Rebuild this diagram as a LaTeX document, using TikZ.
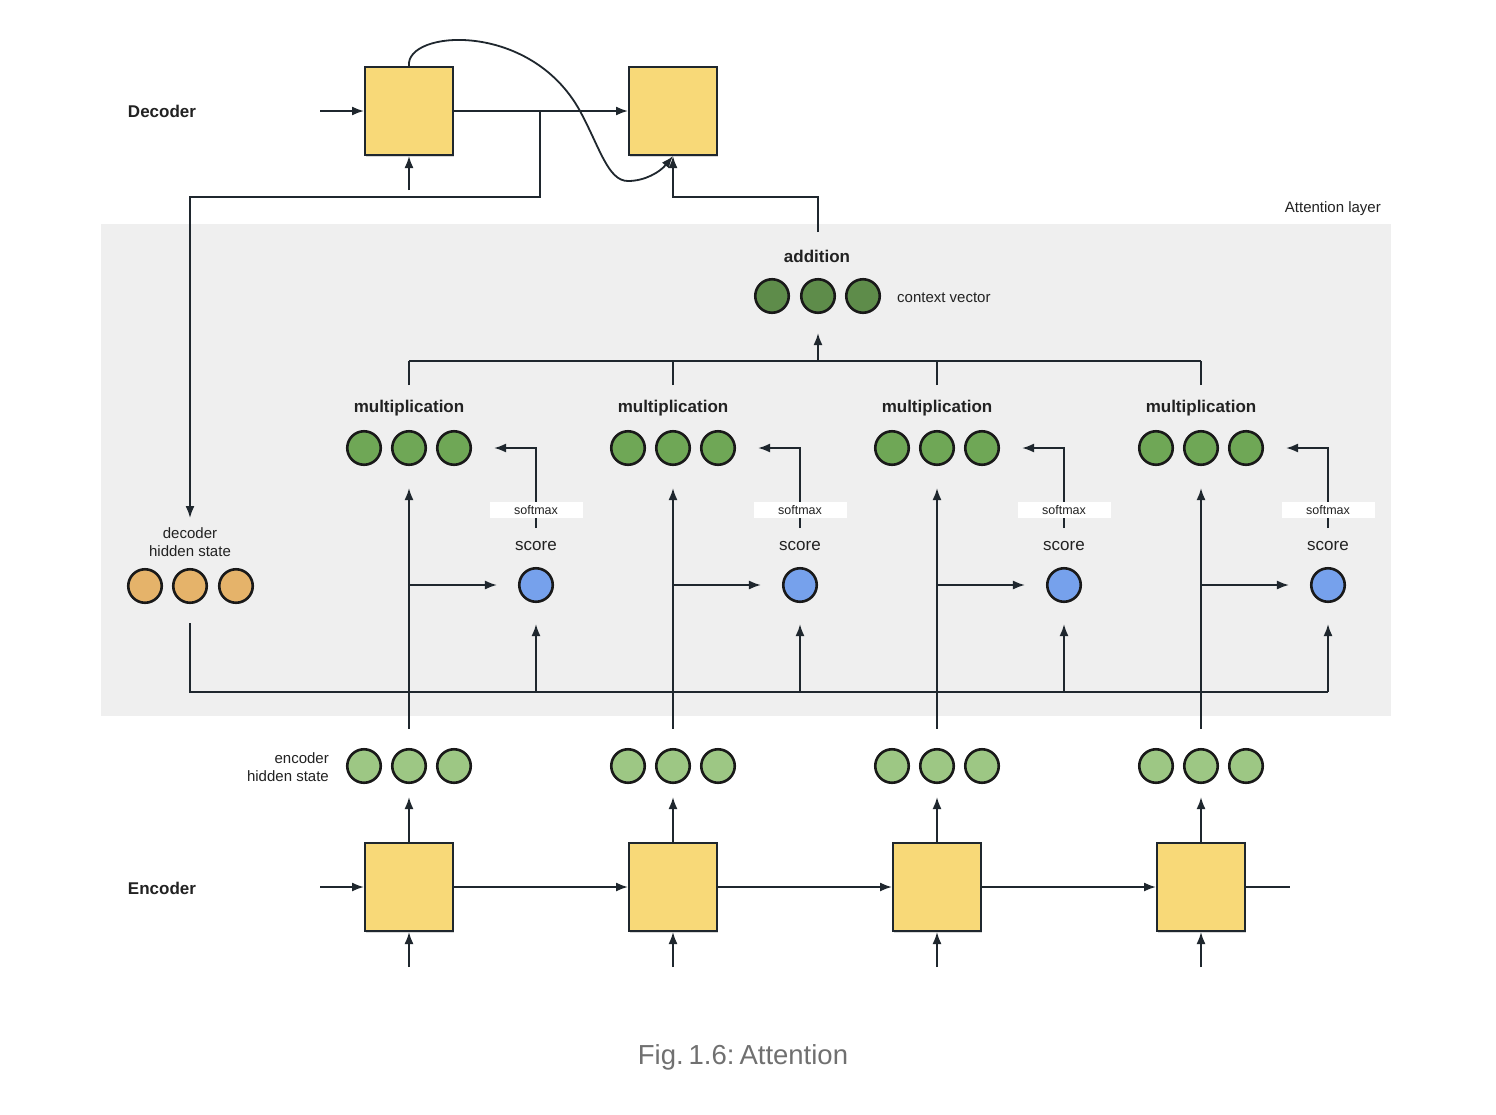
\documentclass[tikz,border=0pt]{standalone}
\usepackage{fontspec}
\setmainfont{Liberation Sans}
\usetikzlibrary{arrows.meta,shadows,calc}
\definecolor{boxyellow}{HTML}{F8D978}
\definecolor{ctxgreen}{HTML}{5E8C4A}
\definecolor{mulgreen}{HTML}{6FA756}
\definecolor{encgreen}{HTML}{9DC784}
\definecolor{scoreblue}{HTML}{76A1EC}
\definecolor{decorange}{HTML}{E5B36A}
\definecolor{attgray}{HTML}{EFEFEF}
\definecolor{linec}{HTML}{1F272E}
\definecolor{textc}{HTML}{222222}
\definecolor{capgray}{HTML}{707070}
\begin{document}
\begin{tikzpicture}[x=1pt,y=-1pt,
  cellbox/.style={draw=linec, line width=2pt, fill=boxyellow, minimum size=88pt, inner sep=0pt,
    drop shadow={shadow xshift=1.2pt, shadow yshift=-1.5pt, opacity=0.3}},
  dot/.style={circle, draw=black!90, line width=2.6pt, minimum size=33.5pt, inner sep=0pt,
    drop shadow={shadow xshift=0.8pt, shadow yshift=-1.2pt, opacity=0.2}},
  arr/.style={draw=linec, line width=1.8pt, -{Latex[length=12pt,width=9pt]}},
  ln/.style={draw=linec, line width=1.8pt},
  boldlbl/.style={font=\fontsize{17}{20}\selectfont\bfseries, text=textc, inner sep=0pt},
  reglbl/.style={font=\fontsize{15}{18}\selectfont, text=textc, inner sep=0pt},
  scorelbl/.style={font=\fontsize{17}{20}\selectfont, text=textc, inner sep=0pt},
  smbox/.style={fill=white, minimum width=93pt, minimum height=16pt, inner sep=0pt,
    font=\fontsize{12.5}{14}\selectfont, text=textc}
]
\fill[white] (0,0) rectangle (1496,1114);
\useasboundingbox (0,0) rectangle (1496,1114);

% attention layer background
\fill[attgray] (101,224) rectangle (1391,716);
\node[reglbl, anchor=east] (attl) at (1381,209) {Attention layer};

% side labels
\node[boldlbl] (declbl) at (162,111) {Decoder};
\node[boldlbl] (enclbl) at (162,888) {Encoder};

% decoder boxes
\node[cellbox] (d1) at (409,111) {};
\node[cellbox] (d2) at (673,111) {};
\coordinate (din) at (320,111);
\coordinate (dbot) at (409,190);
\coordinate (split) at (540,111);
\coordinate (ctxup) at (818,232);

\draw[arr] (din) -- (d1.west);
\draw[arr] (dbot) -- (d1.south);
\draw[arr] (d1.east) -- (d2.west);

% decoder hidden state
\node[dot, fill=decorange] (dh1) at (145,586) {};
\node[dot, fill=decorange] (dh2) at (190,586) {};
\node[dot, fill=decorange] (dh3) at (236,586) {};
\node[reglbl, align=center, font=\fontsize{15}{18}\selectfont] (dhl) at (190,542) {decoder\\hidden state};
\coordinate (dhtip) at (190,518);
\draw[arr] (split) -- (540,197) -- (190,197) -- (dhtip);

% context vector
\node[dot, fill=ctxgreen] (c1) at (772,296) {};
\node[dot, fill=ctxgreen] (c2) at (818,296) {};
\node[dot, fill=ctxgreen] (c3) at (863,296) {};
\node[boldlbl] (addl) at (817,256) {addition};
\node[reglbl, anchor=west] (ctxl) at (897,298) {context vector};
\draw[arr] (ctxup) |- (673,197) -- (d2.south);

% curve from d1 to d2
\draw[arr] (d1.north) .. controls (405,30) and (530,20) .. (580,111)
  .. controls (600,148) and (608,181) .. (628,181)
  .. controls (645,181) and (660,172) .. (d2.south);

% top bus into context vector
\coordinate (busL) at (409,361);
\coordinate (busR) at (1201,361);
\coordinate (busM) at (818,361);
\draw[ln] (busL) -- (busR);
\draw[arr] (busM) -- ([yshift=-19pt]c2.south);

% bottom bus
\coordinate (bbL) at (190,692);
\coordinate (bbR) at (1328,692);
\draw[ln] ([yshift=-19pt]dh2.south) -- (bbL) -- (bbR);

% encoder hidden state label
\node[reglbl, align=right, anchor=east] (ehl) at (329,767) {encoder\\hidden state};

\foreach \i/\gx in {1/409,2/673,3/937,4/1201}{
  \pgfmathsetmacro\sx{\gx+127}
  \pgfmathsetmacro\gl{\gx-45}
  \pgfmathsetmacro\gr{\gx+45}
  % encoder cell
  \node[cellbox] (e\i) at (\gx,887) {};
  \coordinate (ein\i) at (\gx,967);
  \draw[arr] (ein\i) -- (e\i.south);
  % encoder hidden state
  \node[dot, fill=encgreen] (ha\i) at (\gl,766) {};
  \node[dot, fill=encgreen] (hb\i) at (\gx,766) {};
  \node[dot, fill=encgreen] (hc\i) at (\gr,766) {};
  \draw[arr] (e\i.north) -- ([yshift=-13pt]hb\i.south);
  % multiplication
  \node[dot, fill=mulgreen] (ma\i) at (\gl,448) {};
  \node[dot, fill=mulgreen] (mb\i) at (\gx,448) {};
  \node[dot, fill=mulgreen] (mc\i) at (\gr,448) {};
  \node[boldlbl] (mt\i) at (\gx,408) {multiplication};
  \coordinate (tk\i) at (\gx,385);
  \draw[ln] (tk\i) -- (\gx,361);
  \draw[arr] ([yshift=19pt]hb\i.north) -- ([yshift=-22pt]mb\i.south);
  % score
  \node[dot, fill=scoreblue] (s\i) at (\sx,585) {};
  \node[scorelbl] (st\i) at (\sx,546) {score};
  \coordinate (br\i) at (\gx,585);
  \draw[arr] (br\i) -- ([xshift=-21pt]s\i.west);
  \coordinate (bus\i) at (\sx,692);
  \draw[arr] (bus\i) -- ([yshift=-21pt]s\i.south);
  % softmax
  \coordinate (smb\i) at (\sx,528);
  \draw[arr] (smb\i) |- ([xshift=22pt]mc\i.east);
  \node[smbox] (sm\i) at (\sx,510) {softmax};
}

% encoder horizontal chain
\coordinate (ein) at (320,887);
\coordinate (eout) at (1290,887);
\draw[arr] (ein) -- (e1.west);
\draw[arr] (e1.east) -- (e2.west);
\draw[arr] (e2.east) -- (e3.west);
\draw[arr] (e3.east) -- (e4.west);
\draw[ln] (e4.east) -- (eout);

% caption
\node[font=\fontsize{27.5}{31}\selectfont, text=capgray] (cap) at (743,1057) {Fig.\hspace{0.18em}1.6:\hspace{0.18em}Attention};
\end{tikzpicture}
\end{document}
